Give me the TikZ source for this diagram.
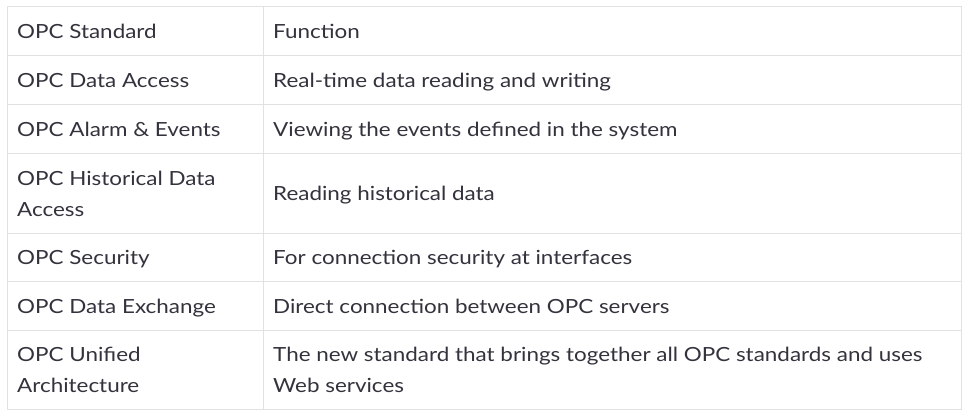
\documentclass[tikz,border=0pt]{standalone}
\usepackage{fontspec}
\setmainfont[FakeStretch=1.15]{Lato}
\definecolor{gridline}{HTML}{E1E1E1}
\definecolor{celltext}{HTML}{33333D}
\tikzset{
  cell/.style={anchor=base west, inner sep=0pt, text=celltext,
    font=\fontsize{19.5}{31}\selectfont, align=left},
  rule/.style={draw=gridline, line width=1pt}
}
\begin{document}
\begin{tikzpicture}[x=1pt, y=-1pt]
    \useasboundingbox (0,0) rectangle (967,420);
    \fill[white] (0,0) rectangle (967,420);

    % grid
    \draw[rule] (7,7) rectangle (961,409);
    \draw[rule] (263,7) -- (263,409);
    \foreach \y in {56,104,153,233,281,330}
        \draw[rule] (7,\y) -- (961,\y);

    % first column (two-line cells sit on their last baseline)
    \node[cell] (stdA) at (17,39) {OPC Standard};
    \node[cell] (daA) at (17,87.5) {OPC Data Access};
    \node[cell] (aeA) at (17,136) {OPC Alarm \& Events};
    \node[cell] (hdaA) at (17,216) {OPC Historical Data\\Access};
    \node[cell] (secA) at (17,264.5) {OPC Security};
    \node[cell] (dxA) at (17,313) {OPC Data Exchange};
    \node[cell] (uaA) at (17,392.5) {OPC Unified\\Architecture};

    % second column
    \node[cell] (stdB) at (273,39) {Function};
    \node[cell] (daB) at (273,87.5) {Real-time data reading and writing};
    \node[cell] (aeB) at (273,136) {Viewing the events defined in the system};
    \node[cell] (hdaB) at (273,200.5) {Reading historical data};
    \node[cell] (secB) at (273,264.5) {For connection security at interfaces};
    \node[cell] (dxB) at (273,313) {Direct connection between OPC servers};
    \node[cell] (uaB) at (273,392.5) {The new standard that brings together all OPC standards and uses\\Web services};
\end{tikzpicture}
\end{document}
